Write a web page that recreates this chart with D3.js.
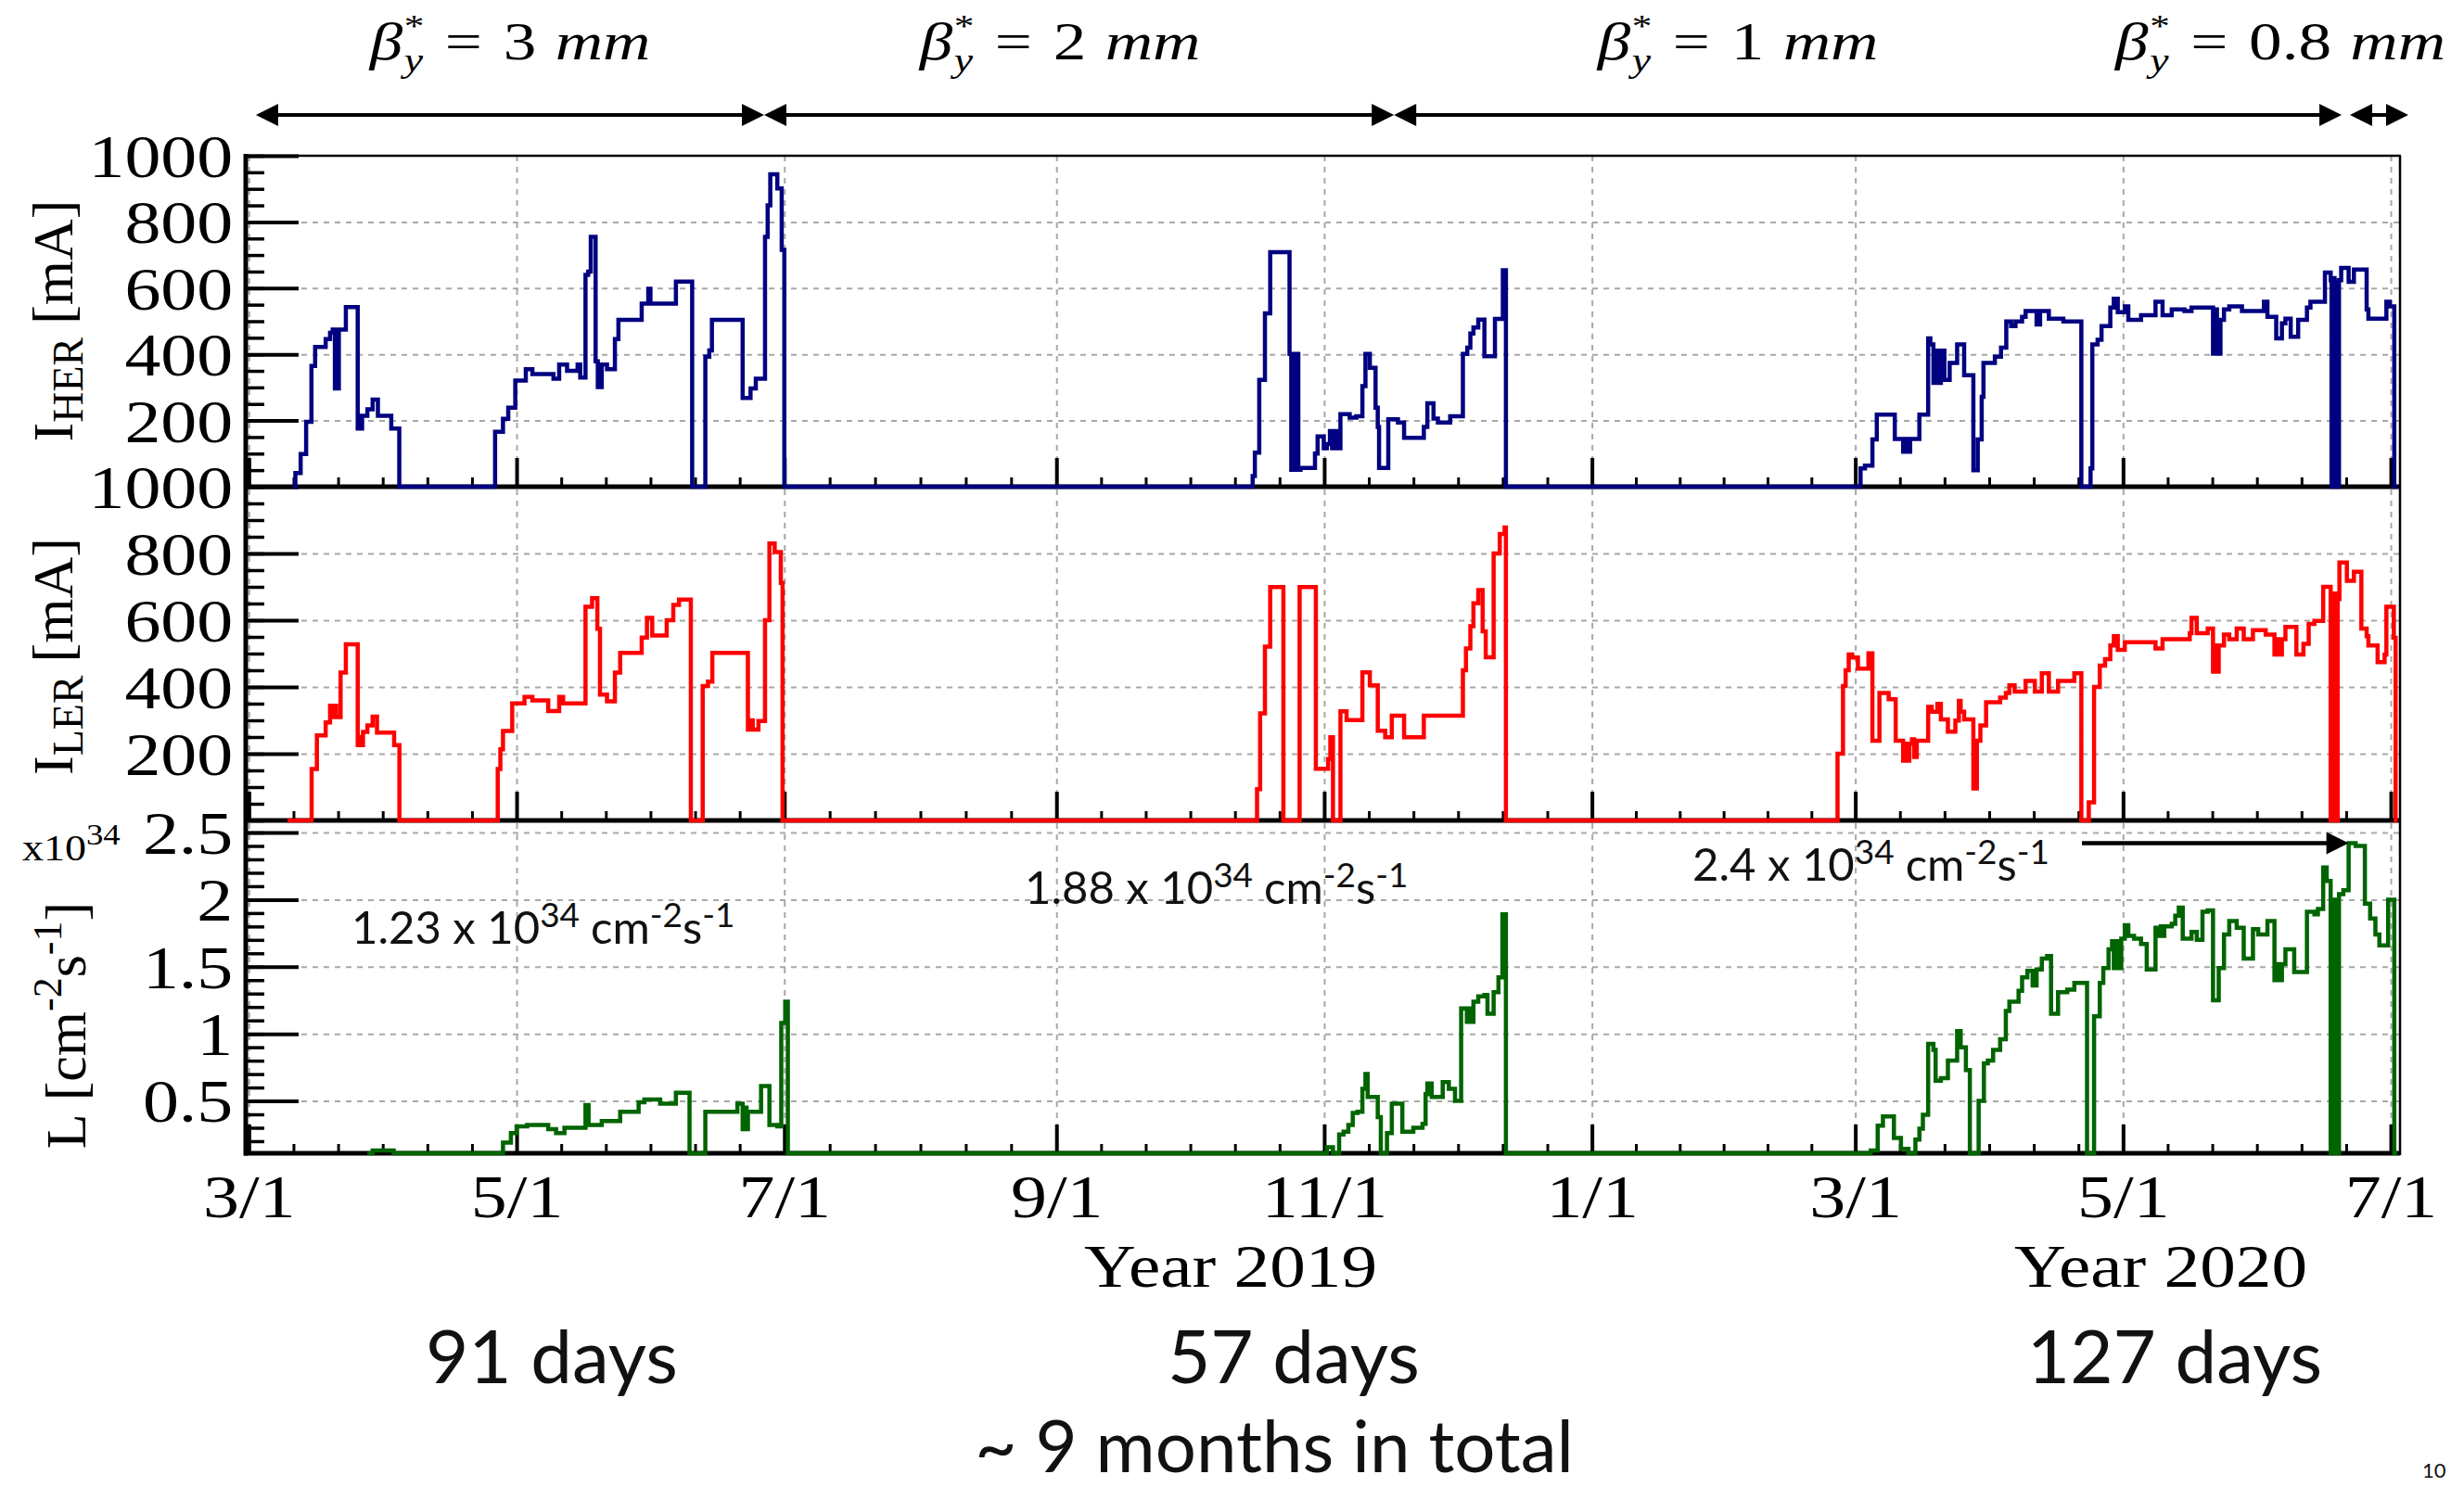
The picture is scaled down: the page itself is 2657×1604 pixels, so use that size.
<!DOCTYPE html>
<html>
<head>
<meta charset="utf-8">
<script src="https://cdn.jsdelivr.net/npm/d3@7"></script>
<style>
  body { margin: 0; background: #fff; }
  svg { display: block; }
</style>
</head>
<body>
<svg id="chart" width="2657" height="1604"></svg>
<script>
// steps: [days since 2019-03-01, value], drawn as step-after lines
var herSteps = [
  [10.0,0],[10.6,41],[11.8,99],[13.05,196],[14.26,365],[15.1,422],[17.5,446],[18.5,465],[19.1,475],[19.6,297],[19.9,475],[20.2,297],[20.5,475],
  [22.1,543],[24.8,176],[25.2,214],[25.5,176],[25.8,214],[27.0,234],[28.2,263],[29.4,214],[32.45,176],[34.27,0],
  [56.1,166],[57.9,205],[59.1,239],[60.7,321],[63.1,355],[64.6,340],[69.4,326],[70.7,369],[72.5,350],[74.9,369],[75.5,330],[76.7,640],
  [77.3,650],[77.9,755],[79.0,379],[79.5,301],[80.4,369],[81.6,355],[83.4,446],[84.2,504],[89.5,553],[91.0,598],[91.5,553],[97.3,620],
  [101.0,0],[104.0,393],[104.9,412],[105.5,504],[112.5,268],[114.3,297],[115.5,326],[117.6,755],[118.2,850],[118.8,944],[120.4,901],
  [121.4,716],[122.0,0],
  [228.7,32],[229.2,103],[230.2,323],[231.5,524],[232.7,709],[237.1,401],[237.5,51],[237.9,401],[238.3,51],[238.7,401],[239.1,51],
  [239.6,57],[242.9,100],[243.5,152],[244.9,116],[245.6,129],[246.3,168],[246.8,116],[247.3,168],[247.8,116],[248.7,219],[250.8,209],
  [252.3,213],[253.7,304],[254.4,401],[255.4,359],[256.7,239],[257.2,181],[257.5,57],[259.6,204],[261.8,194],[263.2,148],[267.7,181],
  [268.5,252],[269.9,206],[270.9,194],[273.7,213],[276.6,401],[277.6,420],[278.3,463],[279.0,481],[280.1,505],[281.5,394],[283.9,507],
  [285.7,654],[286.4,0],
  [367.2,55],[368.2,64],[369.9,143],[370.9,218],[375.0,144],[376.9,106],[377.4,144],[377.8,106],[378.5,144],[380.6,218],[382.6,448],
  [383.1,430],[383.8,314],[384.3,411],[384.9,314],[385.5,411],[386.3,323],[387.5,374],[389.2,430],[390.8,337],[392.9,50],[393.9,143],
  [394.8,272],[395.2,374],[397.8,393],[399.2,420],[400.4,499],[401.5,485],[402.5,499],[404.0,513],[404.8,531],[407.3,490],[408.1,531],
  [410.1,508],[413.4,499],[417.5,0],[419.6,55],[420.0,430],[421.2,444],[422.1,485],[424.1,541],[424.9,568],[425.8,527],[427.4,545],
  [428.2,504],[431.1,518],[434.4,559],[436.0,518],[438.1,536],[441.0,531],[442.6,541],[447.5,402],[448.0,536],[448.4,402],[449.2,504],
  [450.0,536],[451.2,545],[454.1,531],[459.1,559],[459.9,513],[461.9,448],[463.2,494],[464.0,508],[465.2,453],[466.9,504],[468.9,541],
  [469.7,559],[473.0,647],[474.3,624],[474.5,0],[474.9,630],[475.2,0],[475.6,620],[475.9,0],[476.2,624],[476.7,661],[478.4,619],
  [479.6,656],[482.5,536],[482.9,508],[487.0,559],[487.8,545],[488.8,0],[489.5,0]
];

var lerSteps = [
  [8.8,0],[14.3,154],[15.5,255],[17.5,294],[18.5,344],[19.1,310],[19.5,344],[19.9,310],[20.9,443],[22.1,528],[24.8,226],[25.3,250],
  [25.6,226],[26.0,265],[27.0,285],[28.2,311],[29.2,263],[33.1,226],[34.3,0],
  [56.7,154],[57.3,213],[57.9,268],[60.0,351],[62.8,370],[64.6,360],[68.2,328],[70.7,370],[71.6,351],[76.7,640],[78.2,666],[79.4,574],
  [80.0,377],[81.6,357],[83.4,443],[84.6,502],[89.5,548],[90.7,607],[91.9,554],[95.2,600],[96.7,646],[98.0,662],[100.7,0],
  [103.4,403],[104.6,416],[105.6,502],[113.7,272],[114.3,300],[114.8,272],[116.1,298],[117.6,600],[118.6,830],[119.8,804],[121.2,712],
  [121.6,0],
  [229.7,94],[230.4,321],[231.5,521],[232.7,699],[235.7,0],[239.4,699],[243.1,155],[245.9,184],[246.4,249],[247.0,0],[248.7,327],
  [250.1,301],[253.7,444],[255.4,405],[257.2,269],[258.9,249],[260.4,314],[263.2,249],[267.7,314],[276.6,450],[277.3,515],[278.3,582],
  [279.0,651],[280.1,690],[281.1,567],[281.8,489],[283.6,800],[285.0,858],[286.1,878],[286.4,0],
  [361.95,200],[363.2,403],[363.8,450],[364.5,497],[365.3,488],[366.6,455],[369.0,501],[369.9,239],[371.5,382],[373.6,363],[375.2,239],
  [376.9,179],[377.4,230],[377.8,179],[378.3,230],[378.9,243],[379.4,190],[380.0,239],[382.6,340],[383.4,326],[384.7,349],[385.5,303],
  [387.1,266],[388.8,299],[389.6,358],[390.0,326],[390.8,303],[392.9,96],[393.7,239],[394.5,285],[395.8,354],[399.0,368],[400.3,382],
  [401.1,405],[402.3,386],[404.8,418],[406.9,386],[408.5,441],[410.1,386],[412.2,418],[415.9,441],[417.5,0],[419.2,54],[420.4,400],
  [421.7,464],[422.9,483],[424.1,524],[424.9,552],[425.8,511],[427.4,534],[434.4,515],[436.0,543],[442.2,561],[442.6,607],[443.8,561],
  [446.3,575],[447.5,446],[448.0,524],[448.4,446],[448.8,524],[450.0,557],[451.2,543],[452.9,575],[454.5,543],[456.6,570],[459.5,557],
  [461.5,497],[462.0,543],[462.5,497],[463.2,543],[464.0,580],[466.5,497],[468.1,529],[469.3,589],[470.6,598],[472.6,700],[474.3,0],
  [474.7,680],[475.0,0],[475.4,680],[475.7,0],[475.9,663],[476.3,773],[478.0,718],[479.6,745],[481.3,575],[482.5,552],[482.9,524],
  [485.0,474],[486.6,497],[487.0,640],[488.7,547],[489.1,0],[489.5,0]
];

var lumiSteps = [
  [27.0,0],[28.2,0.13],[33.0,0],[57.9,0.19],[59.7,0.26],[61.0,0.31],[63.4,0.32],[68.2,0.29],[70.0,0.26],[71.9,0.30],[76.7,0.47],
  [77.4,0.32],[80.4,0.35],[84.6,0.42],[88.8,0.49],[90.1,0.51],[93.7,0.48],[97.3,0.56],[100.4,0],[104.0,0.42],[111.3,0.48],[112.5,0.29],
  [113.0,0.45],[113.4,0.29],[113.7,0.42],[116.7,0.61],[118.6,0.32],[120.4,0.31],[121.3,1.08],[122.2,1.24],[122.8,0],
  [245.6,0.155],[247.0,0],[248.4,0.25],[249.4,0.27],[250.5,0.32],[251.5,0.41],[252.6,0.42],[253.7,0.59],[254.4,0.70],[254.9,0.53],
  [257.2,0.38],[257.9,0],[259.3,0.26],[260.4,0.48],[262.8,0.27],[265.3,0.30],[267.4,0.33],[268.1,0.55],[268.5,0.63],[268.8,0.55],
  [269.2,0.63],[269.5,0.53],[272.0,0.64],[273.4,0.59],[274.8,0.50],[276.2,1.19],[277.5,1.09],[278.0,1.19],[278.3,1.09],[279.0,1.24],
  [280.1,1.28],[281.5,1.29],[282.2,1.15],[283.6,1.31],[284.7,1.42],[285.6,1.89],[286.4,0],
  [369.5,0.13],[371.1,0.316],[372.3,0.385],[374.8,0.224],[376.4,0.143],[378.1,0],[379.7,0.212],[380.6,0.293],[381.4,0.396],[382.6,0.926],
  [383.8,0.88],[384.3,0.65],[385.5,0.67],[387.1,0.80],[389.2,1.02],[390.0,0.90],[391.2,0.73],[392.1,0],[394.1,0.5],[395.3,0.78],
  [396.2,0.80],[397.4,0.88],[399.0,0.96],[400.3,1.17],[401.1,1.24],[403.2,1.32],[404.0,1.42],[405.2,1.47],[406.4,1.36],[407.3,1.48],
  [408.5,1.56],[409.7,1.58],[410.6,1.15],[412.2,1.31],[414.3,1.33],[415.9,1.38],[418.8,0],[420.4,1.13],[421.7,1.38],[422.5,1.49],
  [423.7,1.63],[424.5,1.69],[424.9,1.49],[425.3,1.69],[425.7,1.49],[426.6,1.71],[427.4,1.81],[428.2,1.73],[429.5,1.71],[431.1,1.67],
  [432.4,1.48],[434.4,1.79],[435.2,1.73],[435.6,1.80],[436.0,1.73],[436.4,1.80],[438.1,1.82],[438.9,1.88],[439.7,1.94],[440.6,1.71],
  [442.6,1.76],[443.8,1.70],[445.1,1.91],[446.3,1.92],[447.5,1.25],[448.8,1.49],[450.0,1.74],[451.2,1.84],[452.9,1.79],[454.5,1.56],
  [456.6,1.78],[457.8,1.74],[459.9,1.84],[461.5,1.40],[462.0,1.52],[462.4,1.40],[463.2,1.52],[464.0,1.63],[466.0,1.46],[468.9,1.91],
  [470.6,1.89],[471.4,1.93],[472.6,2.24],[473.4,2.14],[474.3,0],[474.7,2.0],[475.0,0],[475.4,2.0],[475.7,0],[476.2,2.04],[477.2,2.07],
  [478.4,2.42],[480.0,2.40],[482.1,1.97],[483.3,1.86],[484.5,1.74],[485.4,1.66],[487.4,2.0],[488.8,0],[489.5,0]
];

var monthTicks = ["2019-03-01","2019-05-01","2019-07-01","2019-09-01","2019-11-01","2020-01-01","2020-03-01","2020-05-01","2020-07-01"];
var monthLabels = ["3/1","5/1","7/1","9/1","11/1","1/1","3/1","5/1","7/1"];
var currentTicks = [200, 400, 600, 800, 1000];
var lumiTicks = [0.5, 1, 1.5, 2, 2.5];
var lumiTickLabels = ["0.5", "1", "1.5", "2", "2.5"];
// beta*_y phases, in days since 2019-03-01
var phaseEdges = [[1.6, 117.4], [117.4, 260.9], [260.9, 476.8], [478.7, 492.0]];
var betaValues = ["3", "2", "1", "0.8"];
var peakValues = ["1.23", "1.88", "2.4"];
var runDays = ["91 days", "57 days", "127 days"];
var yearLabels = ["Year 2019", "Year 2020"];

var svg = d3.select("#chart");
var serif = "Liberation Serif, Times New Roman, serif";
var sans = "Lato, Noto Sans, sans-serif";
var X0 = 265, X1 = 2588;

var day0 = Date.UTC(2019, 2, 1);
function toDate(d) { return new Date(day0 + d * 864e5); }

var x = d3.scaleUtc()
    .domain([new Date(Date.UTC(2019, 1, 28, 7)), new Date(Date.UTC(2020, 6, 3, 2, 30))])
    .range([X0, X1]);

var majorDates = monthTicks.map(s => new Date(s + "T00:00:00Z"));
var minorDates = [];
for (var i = 0; i < majorDates.length - 1; i++) {
    var a = +majorDates[i], b = +majorDates[i + 1];
    for (var k = 1; k < 6; k++) minorDates.push(new Date(a + (b - a) * k / 6));
}

var panels = [
    {top: 168, bottom: 525, domain: [0, 1000], minor: d3.range(0, 1001, 50), ticks: currentTicks,
     labels: currentTicks.map(String), color: "#000080", data: herSteps},
    {top: 525, bottom: 885, domain: [0, 1000], minor: d3.range(0, 1001, 50), ticks: currentTicks,
     labels: currentTicks.map(String), color: "#ff0000", data: lerSteps},
    {top: 885, bottom: 1244, domain: [0.11, 2.59], minor: d3.range(2, 26).map(v => v / 10), ticks: lumiTicks,
     labels: lumiTickLabels, color: "#006400", data: lumiSteps}
];
panels.forEach(p => {
    p.y = d3.scaleLinear().domain(p.domain).range([p.bottom, p.top]).clamp(true);
});

function noDomain(g) { g.select(".domain").remove(); }

// vertical grid, through all three pads
svg.append("g")
    .attr("transform", "translate(0,168)")
    .call(d3.axisBottom(x).tickValues(majorDates).tickSize(1244 - 168).tickFormat(""))
    .call(noDomain)
    .selectAll("line")
    .attr("stroke", "#a8a8a8").attr("stroke-width", 2).attr("stroke-dasharray", "6,6");

panels.forEach(p => {
    // horizontal grid
    svg.append("g")
        .attr("transform", `translate(${X0},0)`)
        .call(d3.axisRight(p.y).tickValues(p.ticks.filter(v => v < p.domain[1])).tickSize(X1 - X0).tickFormat(""))
        .call(noDomain)
        .selectAll("line")
        .attr("stroke", "#a8a8a8").attr("stroke-width", 2).attr("stroke-dasharray", "6,6");

    // y ticks, pointing inwards
    svg.append("g")
        .attr("transform", `translate(${X0},0)`)
        .call(d3.axisRight(p.y).tickValues(p.minor).tickSize(20).tickFormat(""))
        .call(noDomain)
        .selectAll("line").attr("stroke", "#000").attr("stroke-width", 3.5);
    svg.append("g")
        .attr("transform", `translate(${X0},0)`)
        .call(d3.axisRight(p.y).tickValues(p.ticks).tickSize(57).tickFormat(""))
        .call(noDomain)
        .selectAll("line").attr("stroke", "#000").attr("stroke-width", 4);

    // y labels
    var lab = svg.append("g")
        .attr("transform", `translate(${X0 - 2},0)`)
        .call(d3.axisLeft(p.y).tickValues(p.ticks).tickSize(0).tickPadding(10)
            .tickFormat((d, i) => p.labels[i]))
        .call(noDomain);
    lab.selectAll("text")
        .attr("font-family", serif).attr("font-size", 66).attr("fill", "#000")
        .attr("dy", "0.34em")
        .attr("transform", "scale(1.18,1)");

    // x ticks at the bottom of each pad
    svg.append("g")
        .attr("transform", `translate(0,${p.bottom})`)
        .call(d3.axisTop(x).tickValues(minorDates).tickSize(10).tickFormat(""))
        .call(noDomain)
        .selectAll("line").attr("stroke", "#000").attr("stroke-width", 3);
    svg.append("g")
        .attr("transform", `translate(0,${p.bottom})`)
        .call(d3.axisTop(x).tickValues(majorDates).tickSize(31).tickFormat(""))
        .call(noDomain)
        .selectAll("line").attr("stroke", "#000").attr("stroke-width", 4);

    // pad bottom axis line
    svg.append("line")
        .attr("x1", X0 - 2).attr("x2", X1).attr("y1", p.bottom).attr("y2", p.bottom)
        .attr("stroke", "#000").attr("stroke-width", 5);
});

// frame
svg.append("line").attr("x1", X0).attr("x2", X1 + 1).attr("y1", 168).attr("y2", 168)
    .attr("stroke", "#000").attr("stroke-width", 2.5);
svg.append("line").attr("x1", X1).attr("x2", X1).attr("y1", 168).attr("y2", 1246)
    .attr("stroke", "#000").attr("stroke-width", 2.5);
svg.append("line").attr("x1", X0).attr("x2", X0).attr("y1", 166).attr("y2", 1246.5)
    .attr("stroke", "#000").attr("stroke-width", 5);

// month labels
var xl = svg.append("g")
    .attr("transform", "translate(0,1244)")
    .call(d3.axisBottom(x).tickValues(majorDates).tickSize(0).tickPadding(22)
        .tickFormat((d, i) => monthLabels[i]))
    .call(noDomain);
xl.selectAll("text")
    .attr("font-family", serif).attr("font-size", 66).attr("fill", "#000")
    .attr("transform", "scale(1.18,1)");

// data
panels.forEach(p => {
    var line = d3.line()
        .x(d => x(toDate(d[0])))
        .y(d => p.y(d[1]))
        .curve(d3.curveStepAfter);
    svg.append("path")
        .datum(p.data)
        .attr("d", line)
        .attr("fill", "none")
        .attr("stroke", p.color)
        .attr("stroke-width", 4.5)
        .attr("stroke-linejoin", "miter")
        .attr("stroke-linecap", "butt");
});

// y titles
function yTitle(xpos, cy, build) {
    var t = svg.append("text")
        .attr("transform", `translate(${xpos},${cy}) rotate(-90)`)
        .attr("text-anchor", "middle")
        .attr("font-family", serif).attr("font-size", 62).attr("fill", "#000");
    build(t);
}
yTitle(78, 346, t => {
    t.append("tspan").text("I");
    t.append("tspan").attr("font-size", 46).attr("dy", 11).text("HER");
    t.append("tspan").attr("dy", -11).attr("dx", 14).text("[mA]");
});
yTitle(78, 708, t => {
    t.append("tspan").text("I");
    t.append("tspan").attr("font-size", 46).attr("dy", 11).text("LER");
    t.append("tspan").attr("dy", -11).attr("dx", 14).text("[mA]");
});
yTitle(92, 1106, t => {
    t.append("tspan").text("L");
    t.append("tspan").attr("dx", 14).text("[cm");
    t.append("tspan").attr("font-size", 44).attr("dy", -26).text("-2");
    t.append("tspan").attr("dy", 26).text("s");
    t.append("tspan").attr("font-size", 44).attr("dy", -26).text("-1");
    t.append("tspan").attr("dy", 26).text("]");
});
var ex = svg.append("text")
    .attr("transform", "translate(24,928) scale(1.15,1)")
    .attr("font-family", serif).attr("font-size", 40).attr("fill", "#000");
ex.append("tspan").text("x10");
ex.append("tspan").attr("font-size", 32).attr("dy", -17).text("34");

// year labels
var yearX = [1327, 2330];
yearLabels.forEach((s, i) => {
    svg.append("text")
        .attr("transform", `translate(${yearX[i]},1388) scale(1.17,1)`)
        .attr("text-anchor", "middle")
        .attr("font-family", serif).attr("font-size", 66).attr("fill", "#000")
        .text(s);
});

// beta* labels and phase arrows
function arrowHead(tipX, y, dir) {
    var L = 24, H = 12;
    svg.append("path")
        .attr("d", `M${tipX},${y} L${tipX - dir * L},${y - H} L${tipX - dir * L},${y + H} Z`)
        .attr("fill", "#000");
}
var arrowY = 124;
phaseEdges.forEach(e => {
    var xa = x(toDate(e[0])), xb = x(toDate(e[1]));
    svg.append("line").attr("x1", xa + 10).attr("x2", xb - 10).attr("y1", arrowY).attr("y2", arrowY)
        .attr("stroke", "#000").attr("stroke-width", 4);
    arrowHead(xa, arrowY, -1);
    arrowHead(xb, arrowY, 1);
});
var betaX = [550, 1143, 1874, 2459];
betaValues.forEach((v, i) => {
    // main part, with a gap where the stacked * / y indices go
    var g = svg.append("g").attr("transform", `translate(${betaX[i]},64) scale(1.27,1)`);
    var t = g.append("text")
        .attr("text-anchor", "middle")
        .attr("font-family", serif).attr("font-size", 56).attr("fill", "#000");
    t.append("tspan").attr("font-style", "italic").text("β");
    t.append("tspan").attr("dx", 36).text("=");
    t.append("tspan").attr("dx", 18).text(v);
    t.append("tspan").attr("dx", 16).attr("font-style", "italic").text("mm");
    var bb = t.node().getBBox();
    var sx = bb.x + 31;
    g.append("text").attr("x", sx).attr("y", -25)
        .attr("font-family", serif).attr("font-size", 34).attr("fill", "#000").text("*");
    g.append("text").attr("x", sx).attr("y", 13)
        .attr("font-family", serif).attr("font-size", 36).attr("font-style", "italic").attr("fill", "#000").text("y");
});

// peak luminosity notes
var peakPos = [[379, 1018], [1105, 975], [1825, 950]];
peakValues.forEach((v, i) => {
    var t = svg.append("text")
        .attr("x", peakPos[i][0]).attr("y", peakPos[i][1])
        .attr("font-family", sans).attr("font-size", 49).attr("fill", "#111");
    t.append("tspan").text(v + " x 10");
    t.append("tspan").attr("font-size", 37).attr("dy", -18).text("34");
    t.append("tspan").attr("dy", 18).attr("dx", 12).text("cm");
    t.append("tspan").attr("font-size", 37).attr("dy", -18).text("-2");
    t.append("tspan").attr("dy", 18).text("s");
    t.append("tspan").attr("font-size", 37).attr("dy", -18).text("-1");
});
// arrow to the 2020 peak
var lumiY = panels[2].y;
var peak = lumiSteps.reduce((m, d) => d[1] > m[1] ? d : m, lumiSteps[0]);
var tipX = x(toDate(peak[0])), tipY = lumiY(peak[1]);
svg.append("line").attr("x1", 2245).attr("x2", tipX - 20).attr("y1", tipY).attr("y2", tipY)
    .attr("stroke", "#000").attr("stroke-width", 4.5);
svg.append("path")
    .attr("d", `M${tipX},${tipY} L${tipX - 24},${tipY - 12} L${tipX - 24},${tipY + 12} Z`)
    .attr("fill", "#000");

// run lengths
var runX = [595, 1395, 2345];
runDays.forEach((s, i) => {
    svg.append("text")
        .attr("x", runX[i]).attr("y", 1492)
        .attr("text-anchor", "middle")
        .attr("font-family", sans).attr("font-size", 80).attr("fill", "#111")
        .text(s);
});
svg.append("text")
    .attr("x", 1374).attr("y", 1588)
    .attr("text-anchor", "middle")
    .attr("font-family", sans).attr("font-size", 78).attr("fill", "#111")
    .text("~ 9 months in total");
svg.append("text")
    .attr("x", 2612).attr("y", 1594)
    .attr("font-family", sans).attr("font-size", 22).attr("fill", "#111")
    .text("10");
</script>
</body>
</html>
